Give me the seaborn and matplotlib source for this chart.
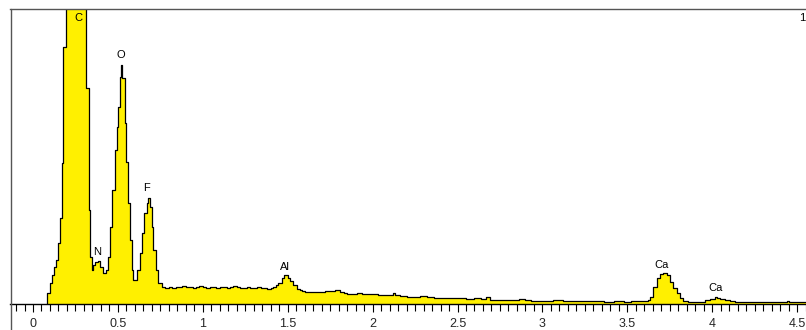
import numpy as np
import pandas as pd
import matplotlib
matplotlib.use("Agg")
import matplotlib.pyplot as plt
import seaborn as sns
from matplotlib.lines import Line2D
from matplotlib.ticker import MultipleLocator

# ---- data (energy in keV, counts in arbitrary units) ----
energy = [0.083, 0.084, 0.100, 0.110, 0.124, 0.135, 0.149, 0.159, 0.169, 0.178, 0.194,
          0.210, 0.230, 0.250, 0.270, 0.290, 0.305, 0.312, 0.327, 0.336, 0.345,
          0.353, 0.365, 0.380, 0.394, 0.412, 0.432, 0.442, 0.453, 0.463, 0.483,
          0.493, 0.502, 0.512, 0.520, 0.527, 0.540, 0.550, 0.560, 0.571, 0.581,
          0.590, 0.610, 0.630, 0.644, 0.656, 0.670, 0.679, 0.689, 0.699, 0.708,
          0.722, 0.738, 0.757,
          0.78, 0.80, 0.82, 0.84, 0.86, 0.88, 0.90, 0.92, 0.94, 0.96, 0.98, 1.00,
          1.02, 1.04, 1.06, 1.08, 1.10, 1.12, 1.14, 1.16, 1.18, 1.20, 1.22, 1.24,
          1.26, 1.28, 1.30, 1.32, 1.34, 1.36, 1.38, 1.40,
          1.415, 1.430, 1.445, 1.465, 1.478, 1.504, 1.514, 1.533, 1.553, 1.570,
          1.582, 1.60, 1.63, 1.66, 1.69, 1.72, 1.75, 1.78, 1.81, 1.83, 1.85, 1.88,
          1.91, 1.94, 1.97, 2.00, 2.03, 2.06, 2.09, 2.12, 2.13, 2.16, 2.20, 2.24,
          2.28, 2.32, 2.36, 2.40, 2.45, 2.50, 2.55, 2.60, 2.64, 2.67, 2.69, 2.75,
          2.80, 2.86, 2.90, 2.93, 3.00, 3.06, 3.12, 3.18, 3.25, 3.30, 3.36, 3.42,
          3.48, 3.52, 3.58, 3.62,
          3.634, 3.653, 3.673, 3.693, 3.712, 3.732, 3.751, 3.771, 3.791, 3.810,
          3.830, 3.86, 3.90, 3.94, 3.957, 3.987, 4.016, 4.030, 4.046, 4.075,
          4.105, 4.134, 4.20, 4.30, 4.40, 4.439, 4.455, 4.50, 4.56]
counts = [0, 11, 21, 29, 37, 44, 61, 86, 141, 257, 420,
          540, 610, 640, 630, 540, 430, 216, 94, 47, 34,
          39, 42, 43, 37, 31, 34, 47, 77, 114, 154,
          177, 197, 227, 239, 226, 181, 142, 101, 64, 34,
          24, 34, 51, 71, 91, 101, 106, 97, 77, 54,
          34, 21, 17,
          16, 17, 16, 17, 17, 18, 17, 17, 16, 17, 18, 17,
          16, 17, 17, 16, 17, 17, 16, 17, 18, 17, 16, 16,
          17, 16, 16, 17, 16, 16, 15, 16,
          17, 19, 21, 26, 29, 26, 23, 19, 15, 14,
          13, 12, 12, 12, 12, 13, 13, 14, 12, 11, 10, 10,
          11, 10, 10, 10, 9, 9, 9, 11, 9, 8, 7, 7,
          8, 7, 6, 6, 6, 6, 5, 6, 5, 7, 4, 4,
          4, 5, 4, 3, 3, 4, 3, 3, 3, 3, 2, 3,
          2, 3, 3, 4,
          7, 17, 26, 30, 31, 29, 22, 16, 11, 6,
          3, 2, 2, 2, 4, 5, 7, 6, 5, 4,
          3, 2, 2, 2, 2, 3, 2, 2, 2]

peak_labels = ["C", "O", "N", "F", "Al", "Ca", "Ca"]
peak_label_energy = [0.265, 0.518, 0.377, 0.671, 1.484, 3.699, 4.022]
peak_label_height = [286, 249, 52, 116, 37, 39, 16]

tick_values = [0, 0.5, 1, 1.5, 2, 2.5, 3, 3.5, 4, 4.5]
tick_labels = ["0", "0.5", "1", "1.5", "2", "2.5", "3", "3.5", "4", "4.5"]

df = pd.DataFrame({"energy": energy, "counts": counts})

# ---- figure ----
sns.set_style("white")
plt.rcParams["font.family"] = ["Liberation Sans", "DejaVu Sans"]

W, H = 806, 330
fig = plt.figure(figsize=(W / 100, H / 100), dpi=100)
left_px, top_px, base_px = 10.5, 8.5, 304
ax = fig.add_axes([left_px / W, (H - base_px) / H, (W - left_px) / W, (base_px - top_px) / H])

ax.fill_between(df["energy"], df["counts"], step="post", color="#FFF000", lw=0, zorder=1)
sns.lineplot(data=df, x="energy", y="counts", drawstyle="steps-post", color="black",
             lw=0.9, estimator=None, sort=False, ax=ax, zorder=2)

ax.set_xlim((left_px - 33) / 169.8, (W - 33) / 169.8)
ax.set_ylim(0, base_px - top_px)
ax.set_xlabel("")
ax.set_ylabel("")
ax.set_yticks([])
ax.set_xticks(tick_values)
ax.set_xticklabels(tick_labels, fontsize=9)
ax.xaxis.set_minor_locator(MultipleLocator(0.05))
ax.tick_params(axis="x", which="both", direction="out", length=5, width=0.8,
               color="black", pad=4, bottom=True)
ax.tick_params(axis="x", which="major", length=6)

for s in ["left", "right"]:
    ax.spines[s].set_visible(False)
ax.spines["bottom"].set_color("black")
ax.spines["bottom"].set_linewidth(1.0)
ax.spines["top"].set_color("#555555")
ax.spines["top"].set_linewidth(1.0)

for lab, e, h in zip(peak_labels, peak_label_energy, peak_label_height):
    ax.text(e, h, lab, ha="center", va="center", fontsize=8, color="black", zorder=3)
ax.text(4.528, 286, "1", ha="center", va="center", fontsize=8, color="black")

# outer frame left edge, extending below the axis to the figure bottom
fig.add_artist(Line2D([left_px / W, left_px / W], [0, (H - top_px) / H],
                      transform=fig.transFigure, color="#555555", lw=1.0))

fig.savefig("out.png", dpi=100)
